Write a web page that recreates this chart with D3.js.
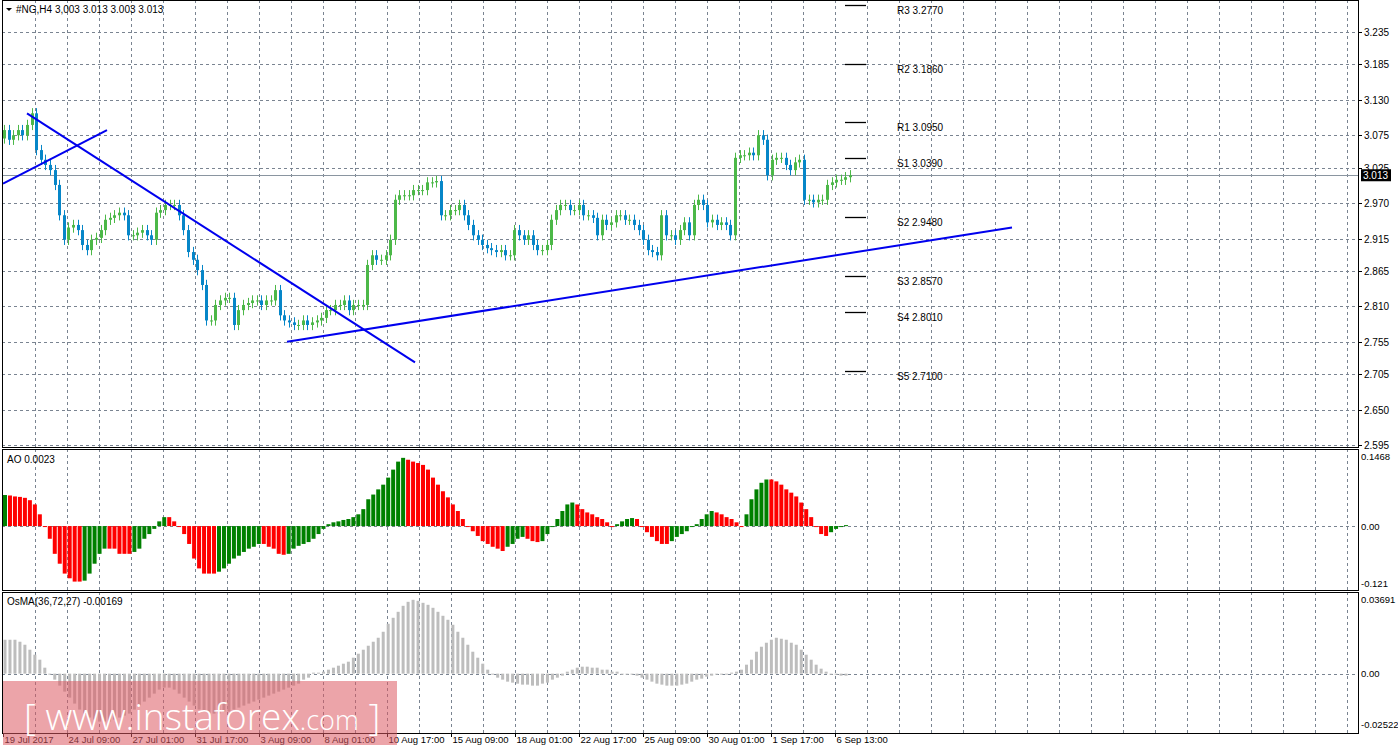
<!DOCTYPE html>
<html><head><meta charset="utf-8">
<script src="https://cdn.jsdelivr.net/npm/d3@7/dist/d3.min.js"></script>
<style>body{margin:0;background:#fff}svg text{font-family:"Liberation Sans",Arial,sans-serif;font-size:10px}</style>
</head><body><svg id="c" width="1398" height="750"></svg>
<script>
const closes=[3.083,3.068,3.075,3.083,3.075,3.091,3.109,3.052,3.037,3.029,3.021,2.998,2.951,2.913,2.932,2.936,2.928,2.905,2.897,2.913,2.916,2.928,2.944,2.947,2.951,2.955,2.951,2.920,2.920,2.924,2.928,2.920,2.913,2.955,2.959,2.967,2.967,2.967,2.951,2.928,2.894,2.882,2.866,2.843,2.788,2.788,2.812,2.819,2.823,2.823,2.781,2.804,2.812,2.815,2.819,2.819,2.812,2.819,2.819,2.835,2.796,2.788,2.785,2.781,2.781,2.788,2.781,2.785,2.788,2.792,2.804,2.804,2.812,2.812,2.819,2.804,2.812,2.812,2.812,2.874,2.889,2.882,2.882,2.889,2.913,2.975,2.982,2.982,2.982,2.990,2.990,2.990,3.002,3.002,3.004,2.951,2.951,2.959,2.959,2.967,2.951,2.936,2.920,2.913,2.905,2.900,2.897,2.894,2.897,2.889,2.889,2.928,2.920,2.913,2.920,2.905,2.897,2.897,2.905,2.944,2.959,2.967,2.967,2.959,2.959,2.967,2.951,2.951,2.947,2.920,2.944,2.936,2.940,2.951,2.951,2.944,2.944,2.936,2.928,2.913,2.897,2.894,2.889,2.951,2.920,2.920,2.913,2.928,2.940,2.920,2.967,2.975,2.967,2.940,2.944,2.936,2.940,2.936,2.920,3.040,3.044,3.044,3.048,3.044,3.075,3.068,3.013,3.037,3.040,3.040,3.029,3.021,3.033,3.037,2.975,2.975,2.971,2.975,2.975,2.998,3.002,3.006,3.006,3.010,3.013];
const firstOpen=3.070;
const aoValues=[0.066,0.065,0.063,0.062,0.060,0.055,0.046,0.025,0.0,-0.027,-0.059,-0.080,-0.101,-0.111,-0.118,-0.118,-0.116,-0.101,-0.080,-0.059,-0.048,-0.048,-0.048,-0.059,-0.059,-0.059,-0.055,-0.048,-0.027,-0.017,-0.006,0.010,0.019,0.019,0.010,-0.002,-0.017,-0.038,-0.069,-0.090,-0.101,-0.101,-0.101,-0.097,-0.090,-0.080,-0.069,-0.063,-0.055,-0.048,-0.044,-0.038,-0.038,-0.044,-0.048,-0.059,-0.061,-0.059,-0.048,-0.042,-0.038,-0.034,-0.027,-0.017,-0.006,0.004,0.008,0.010,0.013,0.015,0.019,0.025,0.036,0.057,0.067,0.078,0.088,0.103,0.120,0.137,0.145,0.141,0.137,0.134,0.130,0.120,0.103,0.088,0.074,0.061,0.046,0.032,0.015,0.0,-0.011,-0.021,-0.032,-0.038,-0.044,-0.048,-0.053,-0.044,-0.038,-0.027,-0.023,-0.027,-0.032,-0.034,-0.032,-0.017,-0.002,0.015,0.032,0.046,0.050,0.046,0.036,0.029,0.025,0.019,0.015,0.008,0.0,0.004,0.010,0.015,0.017,0.015,0.0,-0.013,-0.023,-0.032,-0.038,-0.038,-0.032,-0.023,-0.017,-0.011,-0.002,0.004,0.015,0.025,0.032,0.029,0.025,0.019,0.015,0.008,0.0,0.025,0.057,0.078,0.092,0.099,0.099,0.095,0.088,0.078,0.071,0.063,0.050,0.036,0.019,0.0,-0.017,-0.021,-0.013,-0.006,-0.002,0.002];
const osmaValues=[0.017,0.017,0.017,0.016,0.0145,0.012,0.0095,0.007,0.003,-0.0005,-0.003,-0.006,-0.009,-0.012,-0.015,-0.018,-0.020,-0.022,-0.023,-0.024,-0.024,-0.024,-0.023,-0.022,-0.021,-0.020,-0.018,-0.016,-0.014,-0.012,-0.010,-0.008,-0.007,-0.007,-0.008,-0.010,-0.012,-0.014,-0.016,-0.018,-0.019,-0.020,-0.020,-0.020,-0.019,-0.019,-0.018,-0.017,-0.016,-0.015,-0.014,-0.013,-0.012,-0.011,-0.010,-0.009,-0.008,-0.007,-0.006,-0.005,-0.003,-0.002,0.0005,0.0005,0.001,0.002,0.003,0.004,0.005,0.006,0.008,0.010,0.012,0.014,0.016,0.018,0.021,0.025,0.028,0.031,0.034,0.036,0.037,0.0365,0.0355,0.0345,0.033,0.031,0.029,0.027,0.0245,0.021,0.018,0.0145,0.011,0.008,0.005,0.002,0,-0.002,-0.003,-0.004,-0.0045,-0.005,-0.0055,-0.0055,-0.006,-0.006,-0.005,-0.0045,-0.003,-0.002,-0.001,0.001,0.002,0.003,0.0035,0.0035,0.003,0.003,0.002,0.002,0.001,0.001,0,0,-0.0005,-0.001,-0.002,-0.003,-0.004,-0.005,-0.0055,-0.006,-0.006,-0.006,-0.0055,-0.005,-0.004,-0.003,-0.0025,-0.0015,-0.001,-0.0005,0,0,0.0005,0.001,0.002,0.0045,0.007,0.011,0.0135,0.0155,0.017,0.018,0.0175,0.017,0.0155,0.0145,0.012,0.0095,0.007,0.0045,0.0025,0.001,0,-0.0005,-0.001,-0.001];
const priceTicks=[3.235,3.185,3.130,3.075,3.025,2.970,2.915,2.865,2.810,2.755,2.705,2.650,2.595];
const timeLabels=["19 Jul 2017","24 Jul 09:00","27 Jul 01:00","31 Jul 17:00","3 Aug 09:00","8 Aug 01:00","10 Aug 17:00","15 Aug 09:00","18 Aug 01:00","22 Aug 17:00","25 Aug 09:00","30 Aug 01:00","1 Sep 17:00","6 Sep 13:00"];
const pivotNames=["R3","R2","R1","S1","S2","S3","S4","S5"];
const pivotValues=[3.2770,3.1860,3.0950,3.0390,2.9480,2.8570,2.8010,2.7100];
const trendLines=[[[5.75,3.109],[102.75,2.723]],[[-0.25,3.000],[25.75,3.083]],[[70.75,2.755],[252,2.932]]];
const lastPrice=3.013;

const svg=d3.select("#c");
const L=2,R=1358;
const x=d3.scaleLinear().domain([0,212]).range([4,852]);
const y=d3.scaleLinear().domain([2.595,3.235]).range([445,32]);
const yAO=d3.scaleLinear().domain([-0.121,0.1468]).range([583,457]);
const yOS=d3.scaleLinear().domain([-0.02522,0.03691]).range([724,600]);
const panels=[[0,447],[449,590],[592,733]];
const gridX=d3.range(7.75,340,8);
const grid=svg.append("g").attr("stroke","#7a8491").attr("stroke-dasharray","3,3").attr("stroke-width",1);
panels.forEach(p=>gridX.forEach(g=>{const xx=Math.round(x(g))+0.5;if(xx<R)grid.append("line").attr("x1",xx).attr("x2",xx).attr("y1",p[0]).attr("y2",p[1]);}));
priceTicks.forEach(t=>grid.append("line").attr("x1",L).attr("x2",R).attr("y1",Math.round(y(t))+0.5).attr("y2",Math.round(y(t))+0.5));
grid.append("line").attr("x1",L).attr("x2",R).attr("y1",Math.round(yAO(0))+.5).attr("y2",Math.round(yAO(0))+.5);
grid.append("line").attr("x1",L).attr("x2",R).attr("y1",Math.round(yOS(0))+.5).attr("y2",Math.round(yOS(0))+.5);
svg.append("line").attr("x1",L).attr("x2",R).attr("y1",Math.round(y(lastPrice))+.5).attr("y2",Math.round(y(lastPrice))+.5).attr("stroke","#8a95a0");
const step=211.5/(closes.length-1);
const cg=svg.append("g");
closes.forEach((c,i)=>{const o=i?closes[i-1]:firstOpen;const cx=Math.round(x(i*step))+.5;const up=c>=o;const col=up?"#4cb848":"#0686c8";
 const hi=Math.max(o,c)+0.008,lo=Math.min(o,c)-0.008;
 cg.append("line").attr("x1",cx).attr("x2",cx).attr("y1",y(hi)).attr("y2",y(lo)).attr("stroke",col);
 const t=y(Math.max(o,c)),b=y(Math.min(o,c));
 cg.append("rect").attr("x",cx-1.5).attr("y",t).attr("width",3).attr("height",Math.max(1,b-t)).attr("fill",col);});
pivotValues.forEach((v,i)=>{const yy=Math.round(y(v))+.5;svg.append("line").attr("x1",845).attr("x2",866).attr("y1",yy).attr("y2",yy).attr("stroke","#000").attr("stroke-width",1.3);
 svg.append("text").attr("x",897).attr("y",yy+8).text(pivotNames[i]+" "+v.toFixed(4));});
trendLines.forEach(l=>svg.append("line").attr("x1",x(l[0][0])).attr("y1",y(l[0][1])).attr("x2",x(l[1][0])).attr("y2",y(l[1][1])).attr("stroke","#0000ee").attr("stroke-width",2));
const aoStep=211.5/(aoValues.length);
aoValues.forEach((v,i)=>{const cx=x(0.25+i*aoStep);const col=(i===0||v>aoValues[i-1])?"#008000":"#ff0000";
 svg.append("rect").attr("x",cx-2).attr("width",4).attr("y",Math.min(yAO(v),yAO(0))).attr("height",Math.max(1,Math.abs(yAO(v)-yAO(0)))).attr("fill",col);});
osmaValues.forEach((v,i)=>{const cx=x(0.25+i*aoStep);
 svg.append("rect").attr("x",cx-1.5).attr("width",3).attr("y",Math.min(yOS(v),yOS(0))).attr("height",Math.max(1,Math.abs(yOS(v)-yOS(0)))).attr("fill","#bdbdbd");});
svg.append("rect").attr("x",R).attr("y",0).attr("width",40).attr("height",750).attr("fill","#fff");
const fr=svg.append("g").attr("fill","none").attr("stroke","#000");
panels.forEach(p=>fr.append("rect").attr("x",L+.5).attr("y",p[0]+.5).attr("width",R-L).attr("height",p[1]-p[0]));
const ax=svg.append("g");
priceTicks.forEach(t=>{const yy=Math.round(y(t))+.5;ax.append("line").attr("x1",R).attr("x2",R+4).attr("y1",yy).attr("y2",yy).attr("stroke","#000");ax.append("text").attr("x",R+6).attr("y",yy+3.5).text(t.toFixed(3));});
[[yAO,0.1468,"0.1468",3],[yAO,0,"0.00",3.5],[yAO,-0.121,"-0.121",3.5],[yOS,0.03691,"0.03691",3],[yOS,0,"0.00",3.5],[yOS,-0.02522,"-0.02522",3.5]].forEach(([s,v,l,d])=>{ax.append("text").attr("x",R+3).attr("y",s(v)+d).style("font-size","9.5px").text(l);});
svg.append("rect").attr("x",R+3).attr("y",y(lastPrice)-6).attr("width",30).attr("height",12).attr("fill","#000");
svg.append("text").attr("x",R+5).attr("y",y(lastPrice)+3.5).attr("fill","#fff").text(lastPrice.toFixed(3));
timeLabels.forEach((l,i)=>{const xx=Math.round(x(-0.25+16*i))+.5;svg.append("line").attr("x1",xx).attr("x2",xx).attr("y1",733).attr("y2",737).attr("stroke","#000");
 svg.append("text").attr("x",xx+1).attr("y",743).style("font-size","9.5px").text(l);});
svg.append("path").attr("d","M6,8 L12,8 L9,11 Z").attr("fill","#000");
svg.append("text").attr("x",16).attr("y",13).text("#NG,H4  3,003 3.013 3.003 3.013");
svg.append("text").attr("x",7).attr("y",463).text("AO 0.0023");
svg.append("text").attr("x",7).attr("y",605).text("OsMA(36,72,27) -0.00169");
svg.append("rect").attr("x",3).attr("y",681).attr("width",394).attr("height",64).attr("fill","rgba(221,90,98,0.55)");
const wm=svg.append("text").attr("x",24).attr("y",730).attr("fill","#fff").style("font-family","'Open Sans',sans-serif").style("font-size","37px").style("font-weight","300");
wm.append("tspan").text("[ www.instaforex");
wm.append("tspan").style("font-size","27px").text(".com");
wm.append("tspan").text(" ]");
</script></body></html>
